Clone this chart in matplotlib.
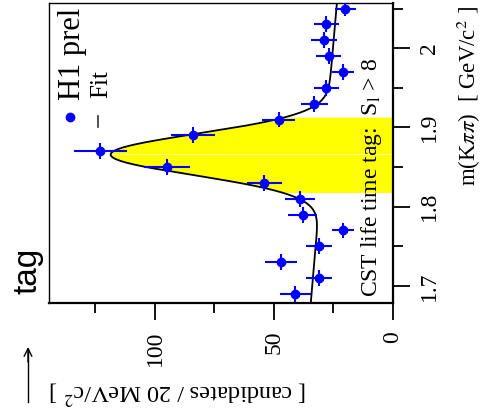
import numpy as np
import matplotlib
matplotlib.use('Agg')
import matplotlib.pyplot as plt
from matplotlib.lines import Line2D
from matplotlib.ticker import FixedLocator

plt.rcParams['font.family'] = ['Liberation Serif', 'DejaVu Serif']
plt.rcParams['mathtext.fontset'] = 'stix'

# D0 candidates per 20 MeV bin (bin centres in GeV)
mass = [1.69, 1.71, 1.73, 1.75, 1.77, 1.79, 1.81, 1.83, 1.85, 1.87,
        1.89, 1.91, 1.93, 1.95, 1.97, 1.99, 2.01, 2.03, 2.05]
counts = [41, 31, 47, 31, 21, 38, 39, 54, 95, 123,
          84, 48, 33, 28, 21, 27, 29, 28, 20]
half_bin = 0.01

# fit: gaussian + linear background (parameters)
fit_mean = 1.866
fit_sigma = 0.026
fit_amp = 89.5
bkg_ref_mass = 1.68
bkg_ref = 34.5
bkg_slope = -29.0
window = (1.818, 1.913)

mass_range = (1.6785, 2.057)
count_range = (144.5, 0)

mass_ticks = [1.7, 1.8, 1.9, 2.0]
mass_ticklabels = ['1.7', '1.8', '1.9', '2']
count_ticks = [0, 50, 100]


def fit_func(m):
    bkg = bkg_ref + bkg_slope * (m - bkg_ref_mass)
    return bkg + fit_amp * np.exp(-0.5 * ((m - fit_mean) / fit_sigma) ** 2)


W, H = 484, 415
fig = plt.figure(figsize=(W / 100, H / 100), dpi=100)
ax = fig.add_axes([49 / W, 1 - 303 / H, (393 - 49) / W, 300 / H])

# signal window shaded under the fit
mw = np.linspace(window[0], window[1], 300)
ax.fill_betweenx(mw, 0, fit_func(mw), color='#ffff00', lw=0, zorder=1)
ax.plot([0, fit_func(fit_mean)], [fit_mean, fit_mean], color='white',
        lw=0.5, alpha=0.8, zorder=1.5)

mg = np.linspace(mass_range[0], mass_range[1], 600)
ax.plot(fit_func(mg), mg, color='black', lw=1.3, zorder=2)

ax.errorbar(counts, mass, xerr=np.sqrt(counts), yerr=half_bin, fmt='o',
            color='blue', ms=6, elinewidth=1.5, capsize=0, zorder=3)

ax.set_xlim(*count_range)
ax.set_ylim(*mass_range)

# axes styling (root-like, outward ticks)
ax.yaxis.tick_right()
ax.yaxis.set_major_locator(FixedLocator(mass_ticks))
ax.yaxis.set_minor_locator(FixedLocator([1.75, 1.85, 1.95, 2.05]))
ax.set_yticklabels(mass_ticklabels)
ax.xaxis.set_major_locator(FixedLocator(count_ticks))
ax.xaxis.set_minor_locator(FixedLocator([25, 75, 125]))
ax.tick_params(which='major', length=12, width=1.3, direction='out',
               labelsize=17, pad=8)
ax.tick_params(which='minor', length=7, width=1.3, direction='out')
ax.tick_params(axis='x', labelrotation=90)
ax.tick_params(axis='y', labelrotation=90, pad=7)
for lab in ax.get_yticklabels():
    lab.set_va('center')
for side in ['left', 'top']:
    ax.spines[side].set_linewidth(1.0)
for side in ['right', 'bottom']:
    ax.spines[side].set_linewidth(1.6)

# legend, drawn by hand
ax.plot([0.061], [0.62], 'o', color='blue', ms=6, transform=ax.transAxes,
        clip_on=False)
ax.plot([0.142, 0.142], [0.587, 0.623], color='#333333', lw=1.2,
        transform=ax.transAxes)
ax.text(0.090, 0.677, 'H1 prel', rotation=90, rotation_mode='anchor',
        ha='left', va='baseline', fontsize=22, transform=ax.transAxes,
        clip_on=True)
ax.text(0.169, 0.683, 'Fit', rotation=90, rotation_mode='anchor',
        ha='left', va='baseline', fontsize=18, transform=ax.transAxes)

ax.text(0.9535, 0.02, r'CST life time tag:  S$_{\rm l}$ > 8', rotation=90,
        rotation_mode='anchor', ha='left', va='baseline', fontsize=17,
        transform=ax.transAxes)

# axis titles
fig.text(476 / W, 1 - 6 / H, r'm(K$\pi\pi$)  [ GeV/c$^2$ ]', rotation=90,
         rotation_mode='anchor', ha='right', va='baseline', fontsize=16.5)
fig.text(50 / W, 1 - 392 / H, r'[ candidates / 20 MeV/c$^2$ ]', rotation=180,
         ha='left', va='center', fontsize=17.5)
fig.text(28 / W, 1 - 271 / H, 'tag', rotation=90, ha='center', va='center',
         fontsize=24, family=['Liberation Sans', 'DejaVu Sans'])

# arrow next to the count axis title
fig.add_artist(Line2D([28 / W, 28 / W], [1 - 402 / H, 1 - 349 / H],
                      transform=fig.transFigure, color='black', lw=1.0))
ax.annotate('', xy=(28 / W, 1 - 347 / H), xytext=(28 / W, 1 - 362 / H),
            xycoords='figure fraction', textcoords='figure fraction',
            arrowprops=dict(arrowstyle='->', lw=1.0, color='black',
                            shrinkA=0, shrinkB=0, mutation_scale=14),
            annotation_clip=False)

fig.savefig('out.png', dpi=100)
